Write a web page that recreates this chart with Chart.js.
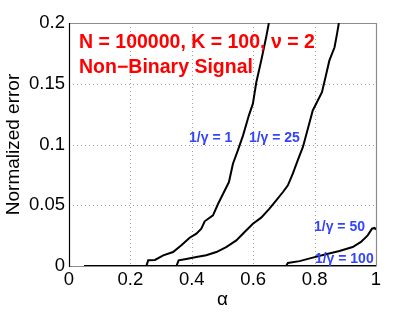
<!DOCTYPE html>
<html>
<head>
<meta charset="utf-8">
<script src="https://cdn.jsdelivr.net/npm/chart.js@4/dist/chart.umd.min.js"></script>
<style>
html,body{margin:0;padding:0;background:#fff;}
#wrap{width:415px;height:312px;position:relative;}
</style>
</head>
<body>
<div id="wrap"><canvas id="c" width="415" height="312"></canvas></div>
<script>
// ---- data ----
const alphaG1   = [0.05, 0.252, 0.258, 0.28, 0.307, 0.339, 0.366, 0.393, 0.415, 0.431, 0.442, 0.469, 0.485, 0.502, 0.521, 0.534, 0.55, 0.567, 0.586, 0.599, 0.61, 0.626, 0.642, 0.651];
const errG1     = [0, 0, 0.0047, 0.005, 0.0088, 0.0115, 0.017, 0.0233, 0.0266, 0.0307, 0.0368, 0.0417, 0.0508, 0.0595, 0.0691, 0.0842, 0.0952, 0.1075, 0.124, 0.1336, 0.151, 0.169, 0.188, 0.2];
const alphaG25  = [0.05, 0.35, 0.357, 0.382, 0.415, 0.447, 0.48, 0.512, 0.545, 0.572, 0.599, 0.626, 0.653, 0.675, 0.697, 0.713, 0.729, 0.745, 0.762, 0.778, 0.794, 0.81, 0.824, 0.837, 0.848, 0.865, 0.873, 0.879];
const errG25    = [0, 0, 0.0047, 0.0058, 0.0074, 0.0088, 0.0115, 0.0156, 0.0211, 0.028, 0.0348, 0.0398, 0.0472, 0.054, 0.0609, 0.0664, 0.076, 0.087, 0.098, 0.113, 0.128, 0.136, 0.143, 0.157, 0.169, 0.18, 0.191, 0.2];
const alphaG50  = [0.05, 0.707, 0.713, 0.751, 0.794, 0.837, 0.881, 0.924, 0.951, 0.973, 0.987, 0.995, 1.0];
const errG50    = [0, 0, 0.0025, 0.004, 0.0069, 0.0096, 0.0123, 0.0156, 0.0198, 0.0252, 0.0307, 0.0313, 0.030];
const alphaG100 = [0.05, 1.0];
const errG100   = [0, 0];

const xTicks = [0, 0.2, 0.4, 0.6, 0.8, 1];
const xTickLabels = ["0", "0.2", "0.4", "0.6", "0.8", "1"];
const yTicks = [0, 0.05, 0.1, 0.15, 0.2];
const yTickLabels = ["0", "0.05", "0.1", "0.15", "0.2"];

const seriesNames = ["1/\u03b3 = 1", "1/\u03b3 = 25", "1/\u03b3 = 50", "1/\u03b3 = 100"];
const titleLine1 = "N = 100000, K = 100, \u03bd = 2";
const titleLine2 = "Non\u2212Binary Signal";
const xTitle = "\u03b1";
const yTitle = "Normalized error";

function pts(xs, ys){ return xs.map((x,i)=>({x:x, y:ys[i]})); }

const FONT = '"Liberation Sans", Arial, Helvetica, sans-serif';

// label anchors (data coordinates)
const labelAnchors = [
  {x:0.391, y:0.1053},
  {x:0.586, y:0.1053},
  {x:0.798, y:0.0321},
  {x:0.801, y:0.0058}
];

const decor = {
  id:'decor',
  beforeDatasetsDraw(chart){
    const {ctx, chartArea:a, scales:{x, y}} = chart;
    ctx.save();
    ctx.strokeStyle = '#a0a0a0';
    ctx.lineWidth = 1;
    ctx.setLineDash([1,3]);
    xTicks.forEach(v=>{
      if(v<=0||v>=1) return;
      const px = Math.round(x.getPixelForValue(v))+0.5;
      ctx.beginPath(); ctx.moveTo(px, a.top); ctx.lineTo(px, a.bottom); ctx.stroke();
    });
    yTicks.forEach(v=>{
      if(v<=0||v>=0.2) return;
      const py = Math.round(y.getPixelForValue(v))+0.5;
      ctx.beginPath(); ctx.moveTo(a.left, py); ctx.lineTo(a.right, py); ctx.stroke();
    });
    ctx.setLineDash([]);
    // box
    ctx.strokeStyle = '#8c8c8c';
    ctx.lineWidth = 1.2;
    ctx.beginPath();
    ctx.moveTo(a.left, a.top+0.5); ctx.lineTo(a.right+0.5, a.top+0.5); ctx.lineTo(a.right+0.5, a.bottom);
    ctx.stroke();
    ctx.beginPath();
    ctx.moveTo(a.left, a.bottom+0.5); ctx.lineTo(a.right+0.5, a.bottom+0.5);
    ctx.stroke();
    ctx.strokeStyle = '#000';
    ctx.lineWidth = 1.2;
    ctx.beginPath();
    ctx.moveTo(a.left+0.5, a.top); ctx.lineTo(a.left+0.5, a.bottom+1);
    ctx.stroke();
    ctx.restore();
  },
  afterDatasetsDraw(chart){
    const {ctx, chartArea:a, scales:{x, y}} = chart;
    ctx.save();
    // red annotation
    ctx.fillStyle = '#ff0000';
    ctx.font = 'bold 19.5px ' + FONT;
    ctx.textAlign = 'left';
    ctx.textBaseline = 'alphabetic';
    ctx.fillText(titleLine1, a.left + 10, a.top + 25);
    ctx.fillText(titleLine2, a.left + 10, a.top + 50);
    // blue series labels
    ctx.fillStyle = '#3344ff';
    ctx.font = 'bold 14px ' + FONT;
    ctx.textBaseline = 'middle';
    seriesNames.forEach((n,i)=>{
      const p = labelAnchors[i];
      ctx.fillText(n, x.getPixelForValue(p.x), y.getPixelForValue(p.y));
    });
    // axis titles
    ctx.fillStyle = '#000';
    ctx.font = '19px ' + FONT;
    ctx.textAlign = 'center';
    ctx.textBaseline = 'alphabetic';
    ctx.fillText(xTitle, (a.left + a.right)/2, 305);
    ctx.translate(19, (a.top + a.bottom)/2);
    ctx.rotate(-Math.PI/2);
    ctx.fillText(yTitle, 0, 0);
    ctx.restore();
  }
};

const lineDs = (label, xs, ys) => ({
  label, data: pts(xs, ys), borderColor:'#000', borderWidth:2, pointRadius:0,
  showLine:true, fill:false, tension:0
});

new Chart(document.getElementById('c'), {
  type:'scatter',
  data:{ datasets:[
    lineDs(seriesNames[0], alphaG1, errG1),
    lineDs(seriesNames[1], alphaG25, errG25),
    lineDs(seriesNames[2], alphaG50, errG50),
    lineDs(seriesNames[3], alphaG100, errG100)
  ]},
  options:{
    responsive:false, animation:false, devicePixelRatio:1,
    layout:{ padding:{ left:0, top:23, right:39, bottom:0 } },
    plugins:{ legend:{display:false}, tooltip:{enabled:false}, title:{display:false} },
    scales:{
      x:{
        type:'linear', min:0, max:1,
        afterBuildTicks(s){ s.ticks = xTicks.map(v=>({value:v})); },
        afterFit(s){ s.height = 46; },
        ticks:{ font:{family:FONT, size:18.5}, color:'#000', padding:3, maxRotation:0,
          callback:(v)=>{ const i = xTicks.indexOf(v); return i>=0 ? xTickLabels[i] : ''; } },
        grid:{ display:false, drawTicks:false }, border:{display:false}
      },
      y:{
        type:'linear', min:0, max:0.2,
        afterBuildTicks(s){ s.ticks = yTicks.map(v=>({value:v})); },
        afterFit(s){ s.width = 69; },
        ticks:{ font:{family:FONT, size:18.5}, color:'#000', padding:4,
          callback:(v)=>{ const i = yTicks.indexOf(v); return i>=0 ? yTickLabels[i] : ''; } },
        grid:{ display:false, drawTicks:false }, border:{display:false}
      }
    }
  },
  plugins:[decor]
});
</script>
</body>
</html>
